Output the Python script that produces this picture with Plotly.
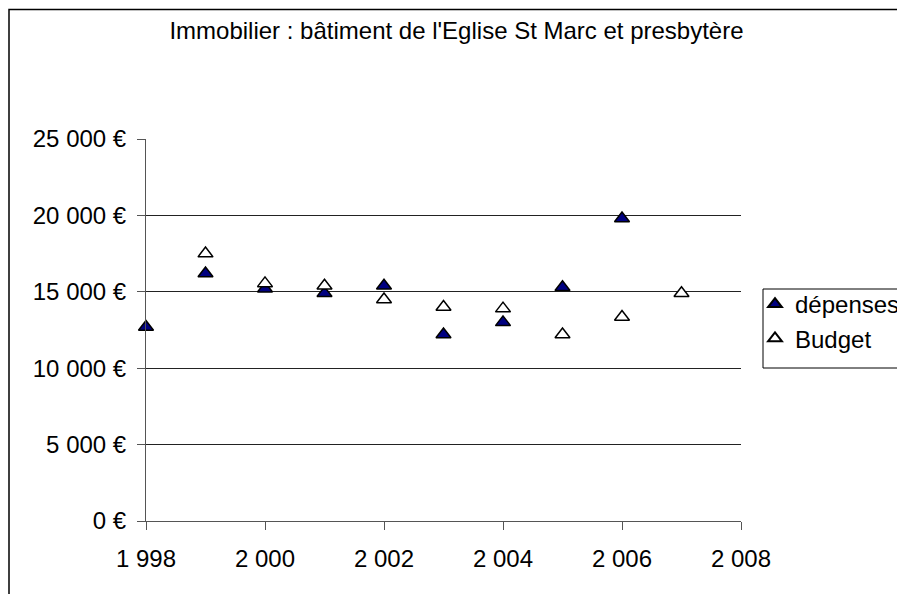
import plotly.graph_objects as go

title_text = "Immobilier : bâtiment de l'Eglise St Marc et presbytère"

years_depenses = [1998, 1999, 2000, 2001, 2002, 2003, 2004, 2005, 2006]
depenses = [12700, 16200, 15200, 14900, 15400, 12200, 13000, 15300, 19800]

years_budget = [1999, 2000, 2001, 2002, 2003, 2004, 2005, 2006, 2007]
budget = [17500, 15550, 15400, 14500, 14000, 13900, 12200, 13350, 14900]

x_ticks = [1998, 2000, 2002, 2004, 2006, 2008]
x_labels = ["1 998", "2 000", "2 002", "2 004", "2 006", "2 008"]
y_ticks = [0, 5000, 10000, 15000, 20000, 25000]
y_labels = ["0 €", "5 000 €", "10 000 €", "15 000 €", "20 000 €", "25 000 €"]

FONT = "Liberation Sans, Arial, sans-serif"
FS = 24

# page body has an 8px margin: figure starts at (8, 8) in the page
OFF = 8
W, H = 905 - OFF, 594 - OFF
PL, PR, PT, PB = 146, 741, 139, 521  # plot area in page pixels
PW, PH = PR - PL, PB - PT


def px(xp):
    return (xp - PL) / PW


def py(yp):
    return (PB - yp) / PH


fig = go.Figure()
fig.add_trace(go.Scatter(
    x=years_depenses, y=depenses, mode="markers", name="dépenses",
    marker=dict(symbol="triangle-up", size=13, color="#000080",
                line=dict(color="black", width=1.5)),
    cliponaxis=False,
))
fig.add_trace(go.Scatter(
    x=years_budget, y=budget, mode="markers", name="Budget",
    marker=dict(symbol="triangle-up", size=13, color="white",
                line=dict(color="black", width=1.5)),
    cliponaxis=False,
))

fig.update_layout(
    width=W, height=H,
    margin=dict(l=PL - OFF, r=905 - PR, t=PT - OFF, b=594 - PB, pad=0, autoexpand=False),
    paper_bgcolor="white", plot_bgcolor="white",
    font=dict(family=FONT, size=FS, color="black"),
    title=dict(text=title_text, x=0.5, xanchor="center", y=1 - (31 - OFF) / H,
               yanchor="middle", font=dict(family=FONT, size=24, color="black")),
    showlegend=True,
    legend=dict(x=px(755), y=py(282), xanchor="left", yanchor="top",
                borderwidth=0, bgcolor="rgba(0,0,0,0)",
                font=dict(family=FONT, size=FS, color="black"),
                itemsizing="constant", itemwidth=30),
    xaxis=dict(range=[1998, 2008], tickvals=x_ticks, ticktext=x_labels,
               showgrid=False, zeroline=False, showline=True, linecolor="#555",
               linewidth=1, ticks="outside", ticklen=8, tickcolor="#555",
               automargin=False, ticklabelstandoff=8,
               tickfont=dict(family=FONT, size=FS, color="black")),
    yaxis=dict(range=[0, 25000], tickvals=y_ticks, ticktext=y_labels,
               showgrid=True, gridcolor="#222", gridwidth=1, zeroline=False,
               showline=True, linecolor="#555", linewidth=1, ticks="outside",
               ticklen=8, tickcolor="#555", automargin=False, ticklabelstandoff=6,
               tickfont=dict(family=FONT, size=FS, color="black")),
    shapes=[
        dict(type="rect", xref="paper", yref="paper",
             x0=px(9), x1=px(912), y0=py(600), y1=py(9.5),
             line=dict(color="black", width=1.5), fillcolor="rgba(0,0,0,0)",
             layer="below"),
        dict(type="rect", xref="paper", yref="paper",
             x0=px(763), x1=px(912), y0=py(368), y1=py(289),
             line=dict(color="black", width=1), fillcolor="white",
             layer="below"),
    ],
)

fig.write_html("out.html")
